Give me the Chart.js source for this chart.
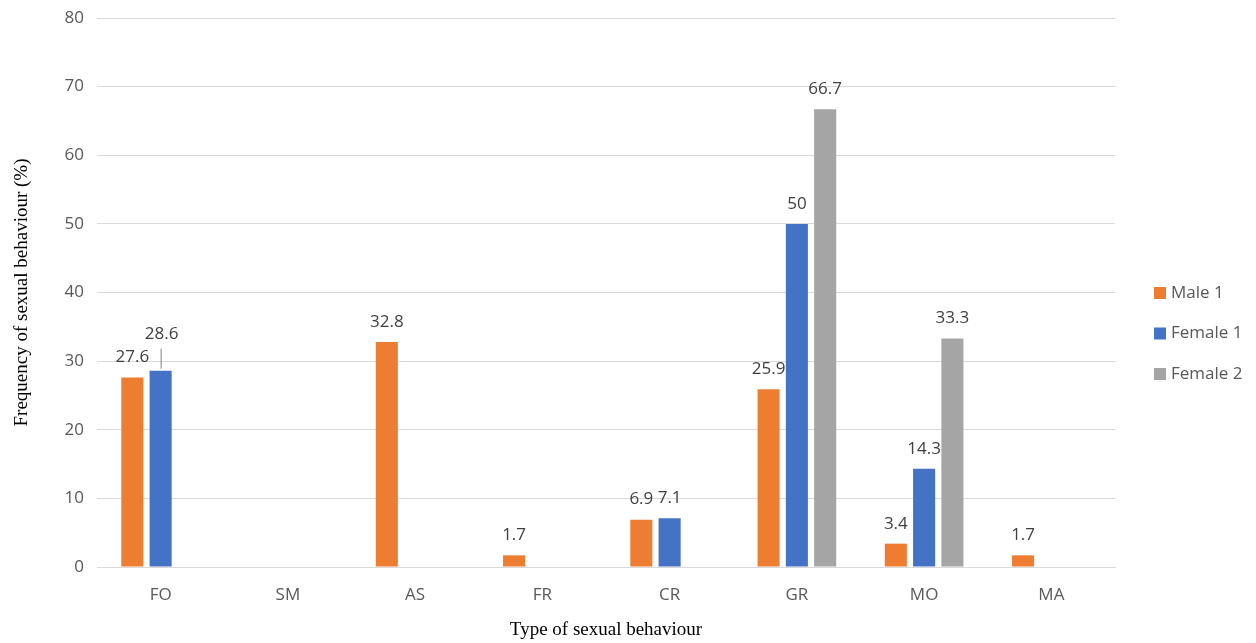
<!DOCTYPE html>
<html>
<head>
<meta charset="utf-8">
<title>Type of sexual behaviour</title>
<script src="https://cdn.jsdelivr.net/npm/chart.js@4.4.1/dist/chart.umd.min.js"></script>
<style>
  html, body { margin: 0; padding: 0; background: #fff; }
  canvas { display: block; }
</style>
</head>
<body>
<canvas id="behaviourChart" width="1256" height="643"></canvas>
<script>
  // categories and series (null = no bar)
  const behaviours = ['FO', 'SM', 'AS', 'FR', 'CR', 'GR', 'MO', 'MA'];
  const male1 = [27.6, null, 32.8, 1.7, 6.9, 25.9, 3.4, 1.7];
  const female1 = [28.6, null, null, null, 7.1, 50, 14.3, null];
  const female2 = [null, null, null, null, null, 66.7, 33.3, null];
  const yTicks = [0, 10, 20, 30, 40, 50, 60, 70, 80];

  const labelFont = '17px "Open Sans"';

  // value labels on top of the bars, plus the side legend
  const barLabels = {
    id: 'barLabels',
    afterDatasetsDraw(chart) {
      const ctx = chart.ctx;
      ctx.save();
      ctx.font = labelFont;
      ctx.fillStyle = '#404040';
      ctx.textAlign = 'center';
      ctx.textBaseline = 'middle';
      chart.data.datasets.forEach(function(ds, i) {
        const meta = chart.getDatasetMeta(i);
        meta.data.forEach(function(bar, j) {
          const v = ds.data[j];
          if (v === null) return;
          // the FO / Female 1 label was pushed up with a leader line
          if (i === 1 && j === 0) {
            ctx.strokeStyle = '#808080';
            ctx.lineWidth = 1;
            ctx.beginPath();
            ctx.moveTo(bar.x + 0.5, bar.y - 2);
            ctx.lineTo(bar.x + 0.5, bar.y - 22);
            ctx.stroke();
            ctx.fillText(String(v), bar.x + 1, bar.y - 37);
          } else {
            ctx.fillText(String(v), bar.x, bar.y - 20);
          }
        });
      });
      ctx.restore();
    },
    afterDraw(chart) {
      const ctx = chart.ctx;
      ctx.save();
      ctx.font = labelFont;
      ctx.textAlign = 'left';
      ctx.textBaseline = 'middle';
      chart.data.datasets.forEach(function(ds, i) {
        const y = 293 + i * 40.5;
        ctx.fillStyle = ds.backgroundColor;
        ctx.fillRect(1154, y - 6, 12, 12);
        ctx.fillStyle = '#595959';
        ctx.fillText(ds.label, 1171, y);
      });
      ctx.restore();
    }
  };

  const chart = new Chart(document.getElementById('behaviourChart').getContext('2d'), {
    type: 'bar',
    data: {
      labels: behaviours,
      datasets: [
        { label: 'Male 1', data: male1, backgroundColor: '#ED7D31' },
        { label: 'Female 1', data: female1, backgroundColor: '#4472C4' },
        { label: 'Female 2', data: female2, backgroundColor: '#A5A5A5' }
      ]
    },
    options: {
      responsive: false,
      animation: false,
      categoryPercentage: 0.667,
      barPercentage: 0.78,
      layout: { padding: { top: 18, right: 141, left: 0, bottom: 0 } },
      plugins: {
        legend: { display: false },
        tooltip: { enabled: false }
      },
      scales: {
        x: {
          grid: { display: false, drawTicks: false },
          border: { color: '#d9d9d9', width: 1 },
          ticks: { color: '#595959', font: { family: 'Open Sans', size: 17 }, padding: 18 },
          title: {
            display: true,
            text: 'Type of sexual behaviour',
            color: '#000',
            font: { family: 'Liberation Serif', size: 19 },
            padding: { top: 0, bottom: 2 }
          },
          afterFit: function(scale) {
            scale.height = 76;
            scale.paddingLeft = 0;
            scale.paddingRight = 0;
          }
        },
        y: {
          min: 0,
          max: 80,
          afterBuildTicks: function(scale) {
            scale.ticks = yTicks.map(function(v) { return { value: v }; });
          },
          grid: { color: '#d9d9d9', drawTicks: false },
          border: { display: false },
          ticks: { color: '#595959', font: { family: 'Open Sans', size: 17 }, padding: 13 },
          title: {
            display: true,
            text: 'Frequency of sexual behaviour (%)',
            color: '#000',
            font: { family: 'Liberation Serif', size: 19 },
            padding: { top: 11, bottom: 0 }
          },
          afterFit: function(scale) {
            scale.width = 97;
            scale.paddingTop = 0;
            scale.paddingBottom = 0;
          }
        }
      }
    },
    plugins: [barLabels]
  });
</script>
</body>
</html>
